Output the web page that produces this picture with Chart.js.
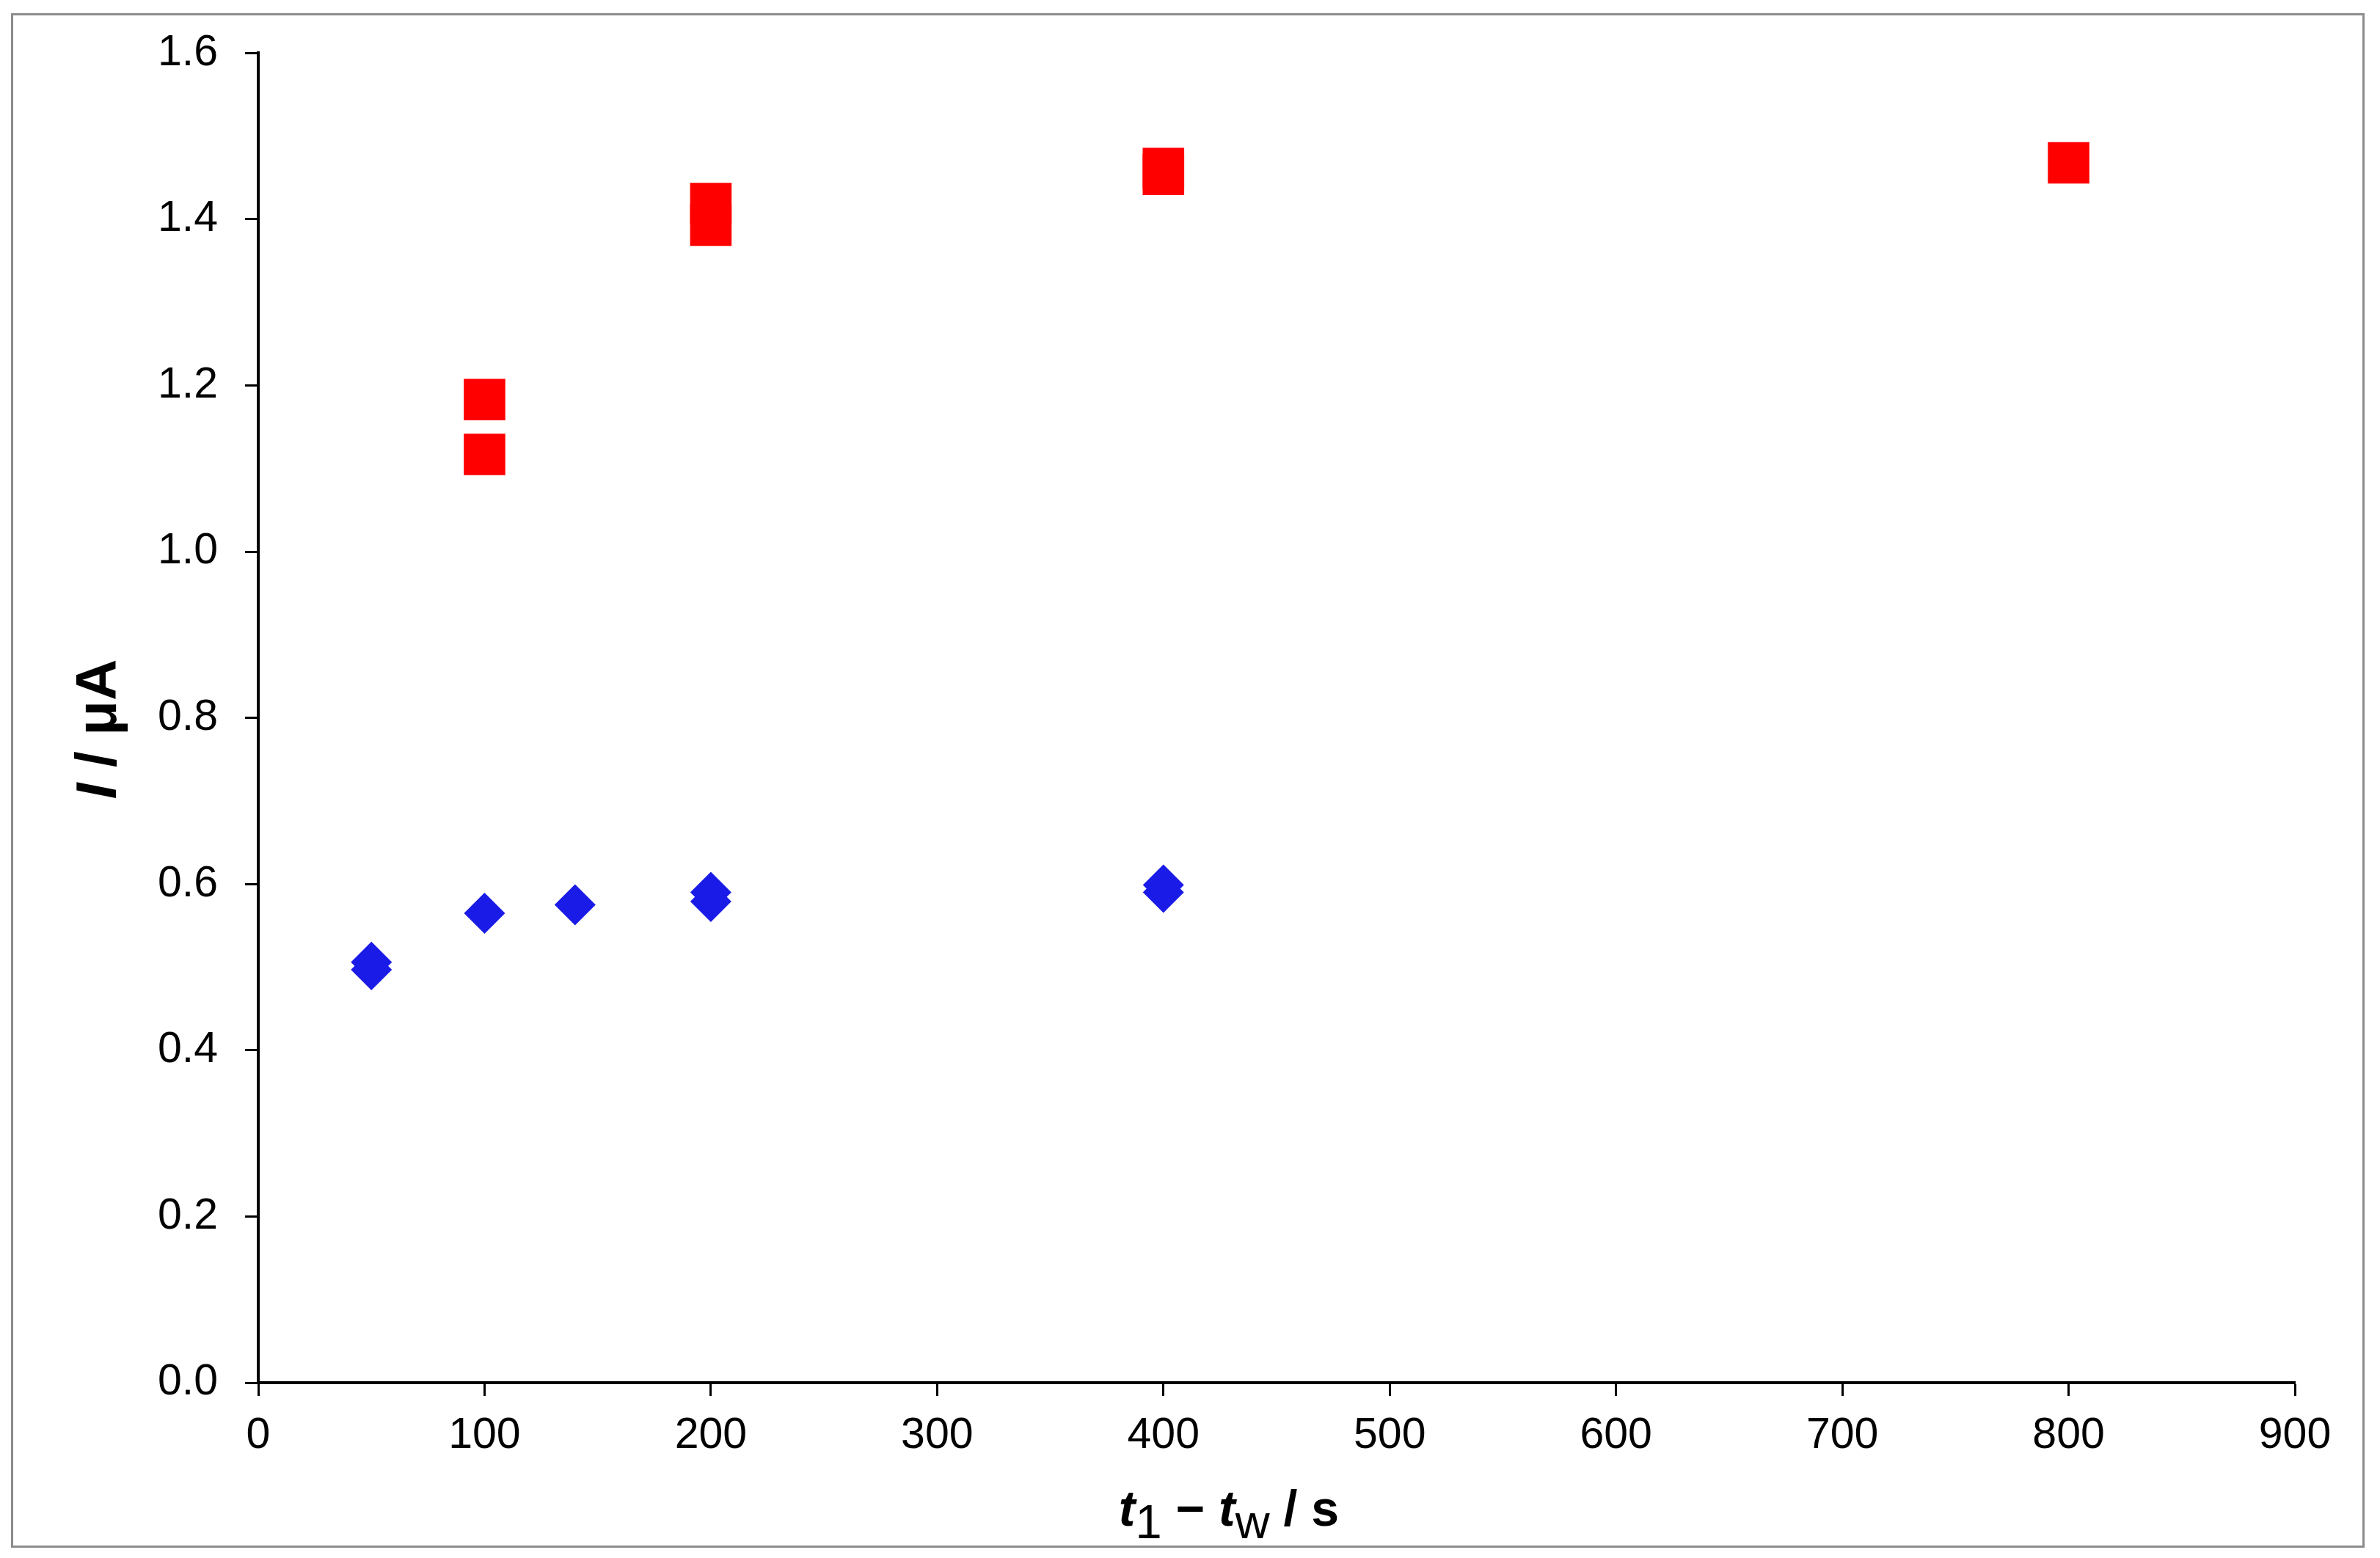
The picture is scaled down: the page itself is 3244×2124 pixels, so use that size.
<!DOCTYPE html>
<html>
<head>
<meta charset="utf-8">
<script src="https://cdn.jsdelivr.net/npm/chart.js@4.4.1/dist/chart.umd.min.js"></script>
<style>
  html, body { margin: 0; padding: 0; background: #ffffff; }
  #wrap { width: 3244px; height: 2124px; }
</style>
</head>
<body>
<div id="wrap"><canvas id="c" width="3244" height="2124"></canvas></div>
<script>
// ---- data ----
const redX  = [100, 100, 200, 200, 400, 400, 800];
const redY  = [1.183, 1.117, 1.419, 1.393, 1.461, 1.454, 1.468];
const blueX = [50, 50, 100, 140, 200, 200, 400, 400];
const blueY = [0.506, 0.497, 0.565, 0.575, 0.590, 0.579, 0.599, 0.590];

const xTickValues = [0, 100, 200, 300, 400, 500, 600, 700, 800, 900];
const yTickLabels = ['0.0', '0.2', '0.4', '0.6', '0.8', '1.0', '1.2', '1.4', '1.6'];

// axis title pieces: [text, style] ; style: 'bi' bold italic, 'b' bold, 'sub' regular subscript
const xTitleParts = [['t', 'bi'], ['1', 'sub'], [' \u2212 ', 'b'], ['t', 'bi'], ['w', 'sub'], [' / s', 'b']];
const yTitleParts = [['I', 'bi'], [' / \u03bcA', 'b']];

const FONT = '"Liberation Sans", Arial, Helvetica, sans-serif';

function fontFor(style, size) {
  if (style === 'bi') return 'italic bold ' + size + 'px ' + FONT;
  if (style === 'b') return 'bold ' + size + 'px ' + FONT;
  return 'normal ' + Math.round(size * 0.95) + 'px ' + FONT;
}

function drawRich(ctx, parts, cx, baseY, size, subShift) {
  let total = 0;
  const widths = parts.map(p => { ctx.font = fontFor(p[1], size); const w = ctx.measureText(p[0]).width; total += w; return w; });
  let x = cx - total / 2;
  ctx.textBaseline = 'alphabetic';
  ctx.textAlign = 'left';
  parts.forEach((p, i) => {
    ctx.font = fontFor(p[1], size);
    ctx.fillText(p[0], x, baseY + (p[1] === 'sub' ? subShift : 0));
    x += widths[i];
  });
}

const decor = {
  id: 'decor',
  beforeDraw(chart) {
    const ctx = chart.ctx;
    ctx.save();
    ctx.fillStyle = '#ffffff';
    ctx.fillRect(0, 0, chart.width, chart.height);
    ctx.strokeStyle = '#8c8c8c';
    ctx.lineWidth = 3;
    ctx.strokeRect(16.5, 19.5, 3221 - 16, 2108 - 19);
    ctx.restore();
  },
  afterDraw(chart) {
    const ctx = chart.ctx;
    ctx.save();
    ctx.fillStyle = '#000000';
    // x-axis title
    drawRich(ctx, xTitleParts, 1675, 2080, 68, 17);
    // y-axis title (rotated)
    ctx.translate(158, 994);
    ctx.rotate(-Math.PI / 2);
    drawRich(ctx, yTitleParts, 0, 0, 78, 0);
    ctx.restore();
  }
};

const tickFont = { family: FONT, size: 59 };

new Chart(document.getElementById('c'), {
  type: 'scatter',
  data: {
    datasets: [
      {
        label: 'red',
        data: redX.map((x, i) => ({ x: x, y: redY[i] })),
        pointStyle: 'rect',
        pointRadius: 40,
        pointHoverRadius: 40,
        backgroundColor: '#ff0000',
        borderColor: '#ff0000',
        borderWidth: 0
      },
      {
        label: 'blue',
        data: blueX.map((x, i) => ({ x: x, y: blueY[i] })),
        pointStyle: 'rectRot',
        pointRadius: 28,
        pointHoverRadius: 28,
        backgroundColor: '#1b1be8',
        borderColor: '#1b1be8',
        borderWidth: 0
      }
    ]
  },
  options: {
    responsive: false,
    animation: false,
    devicePixelRatio: 1,
    layout: { padding: { top: 68, right: 116, left: 0, bottom: 0 } },
    plugins: { legend: { display: false }, tooltip: { enabled: false } },
    scales: {
      x: {
        type: 'linear',
        min: xTickValues[0],
        max: xTickValues[xTickValues.length - 1],
        afterBuildTicks(scale) { scale.ticks = xTickValues.map(v => ({ value: v })); },
        afterFit(scale) { scale.height = 239; },
        ticks: { font: tickFont, color: '#000000', padding: 19, maxRotation: 0, autoSkip: false,
                 callback: v => String(v) },
        grid: { drawOnChartArea: false, drawTicks: true, tickLength: 18, tickWidth: 3, tickColor: '#000000' },
        border: { display: true, color: '#000000', width: 4 }
      },
      y: {
        type: 'linear',
        min: 0,
        max: 1.6,
        afterBuildTicks(scale) { scale.ticks = yTickLabels.map(s => ({ value: parseFloat(s) })); },
        afterFit(scale) { scale.width = 352; },
        ticks: { font: tickFont, color: '#000000', padding: 37, autoSkip: false,
                 callback: (v, i) => yTickLabels[i] },
        grid: { drawOnChartArea: false, drawTicks: true, tickLength: 18, tickWidth: 3, tickColor: '#000000' },
        border: { display: true, color: '#000000', width: 4 }
      }
    }
  },
  plugins: [decor]
});
</script>
</body>
</html>
